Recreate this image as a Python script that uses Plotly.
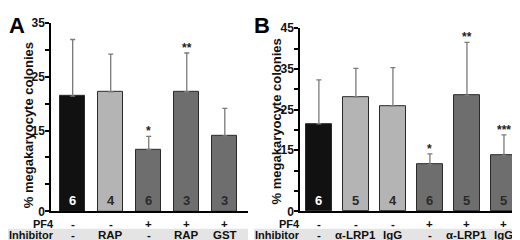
import plotly.graph_objects as go

# Panel A data
a_means = [21.4, 22.2, 11.5, 22.2, 14.0]
a_errs = [10.5, 7.0, 2.4, 7.2, 5.1]
a_n = ["6", "4", "6", "3", "3"]
a_pf4 = ["-", "-", "+", "+", "+"]
a_inh = ["-", "RAP", "-", "RAP", "GST"]
a_stars = ["", "", "*", "**", ""]
a_colors = ["#111111", "#b4b4b4", "#6e6e6e", "#6e6e6e", "#6e6e6e"]
a_ticks = [0, 5, 10, 15, 20, 25, 30, 35]
a_ticklabels = ["0", "", "", "15", "", "25", "", "35"]

# Panel B data
b_means = [21.5, 28.1, 25.9, 11.5, 28.5, 13.7]
b_errs = [10.8, 7.0, 9.4, 2.6, 13.0, 5.1]
b_n = ["6", "5", "4", "6", "5", "5"]
b_pf4 = ["-", "-", "-", "+", "+", "+"]
b_inh = ["-", "α-LRP1", "IgG", "-", "α-LRP1", "IgG"]
b_stars = ["", "", "", "*", "**", "***"]
b_colors = ["#111111", "#b4b4b4", "#b4b4b4", "#6e6e6e", "#6e6e6e", "#6e6e6e"]
b_ticks = [0, 5, 10, 15, 20, 25, 30, 35, 40, 45]
b_ticklabels = ["0", "", "", "15", "", "25", "", "35", "", "45"]

FONT = "Liberation Sans, Arial, sans-serif"
W, H = 520, 240
ROW1 = 18   # px from bottom (PF4 row centre)
ROW2 = 6.5  # px from bottom (Inhibitor row centre)

fig = go.Figure()

def add_panel(means, errs, colors, ns, pf4, inh, stars, xa, ya, width):
    xs = list(range(len(means)))
    fig.add_trace(go.Bar(
        x=xs, y=means, width=width,
        marker=dict(color=colors, line=dict(color="#2a2a2a", width=1)),
        error_y=dict(type="data", symmetric=False, array=errs,
                     arrayminus=[0] * len(errs), color="#7a7a7a",
                     thickness=1.3, width=2.5),
        xaxis=xa, yaxis=ya, showlegend=False, hoverinfo="skip"))
    xref = "x" if xa == "x" else "x2"
    yref = "y" if ya == "y" else "y2"
    for i, x in enumerate(xs):
        fig.add_annotation(x=x, y=0, xref=xref, yref=yref, text=ns[i],
                           showarrow=False, yanchor="bottom", yshift=1,
                           font=dict(family=FONT, size=13, weight="bold",
                                     color="#ffffff" if i == 0 else "#2a2a2a"))
        fig.add_annotation(x=x, y=ROW1 / H, xref=xref, yref="paper", text=pf4[i],
                           showarrow=False, yanchor="middle", borderpad=0,
                           font=dict(family=FONT, size=11.5, weight="bold", color="#111"))
        fig.add_annotation(x=x, y=ROW2 / H, xref=xref, yref="paper", text=inh[i],
                           showarrow=False, yanchor="middle", borderpad=0,
                           font=dict(family=FONT, size=11.5, weight="bold", color="#111"))
        if stars[i]:
            fig.add_annotation(x=x, y=means[i] + errs[i], xref=xref, yref=yref,
                               text=stars[i], showarrow=False, yanchor="bottom",
                               yshift=-4,
                               font=dict(family=FONT, size=12, weight="bold", color="#222"))

# gray bands for Inhibitor rows
fig.add_shape(type="rect", xref="paper", yref="paper", x0=0, x1=240 / W,
              y0=0, y1=13 / H, fillcolor="#e4e4e4", line=dict(width=0), layer="below")
fig.add_shape(type="rect", xref="paper", yref="paper", x0=246 / W, x1=1,
              y0=0, y1=13 / H, fillcolor="#e4e4e4", line=dict(width=0), layer="below")

add_panel(a_means, a_errs, a_colors, a_n, a_pf4, a_inh, a_stars, "x", "y", 0.66)
add_panel(b_means, b_errs, b_colors, b_n, b_pf4, b_inh, b_stars, "x2", "y2", 0.7)

# row labels
for xr, txt, yy in [(47, "PF4", ROW1), (47, "Inhibitor", ROW2),
                    (293, "PF4", ROW1), (293, "Inhibitor", ROW2)]:
    fig.add_annotation(x=xr / W, y=yy / H, xref="paper", yref="paper", text=txt,
                       showarrow=False, xanchor="right", yanchor="middle", borderpad=0,
                       font=dict(family=FONT, size=11, weight="bold", color="#111"))

# y titles
for xc, yc in [(20, 117), (268, 113)]:
    fig.add_annotation(x=xc / W, y=1 - yc / H, xref="paper", yref="paper",
                       text="% megakaryocyte colonies", textangle=-90, showarrow=False,
                       xanchor="center", yanchor="middle",
                       font=dict(family=FONT, size=13, weight="bold", color="#111"))

# panel letters
for xc, txt in [(0, "A"), (245, "B")]:
    fig.add_annotation(x=xc / W, y=1, xref="paper", yref="paper", text=txt,
                       showarrow=False, xanchor="left", yanchor="top", yshift=3,
                       borderpad=0,
                       font=dict(family=FONT, size=22, weight="bold", color="#000"))

axis_common = dict(showgrid=False, zeroline=False, showline=True,
                   linecolor="#000", linewidth=1.5)

fig.update_layout(
    width=W, height=H, margin=dict(l=0, r=0, t=0, b=0),
    plot_bgcolor="white", paper_bgcolor="white", bargap=0,
    xaxis=dict(domain=[43 / W, 240 / W], range=[-0.57, 4.61], showticklabels=False,
               ticks="", **axis_common),
    yaxis=dict(domain=[1 - 208.5 / H, 1 - 8.3 / H], range=[0, 35], tickvals=a_ticks,
               ticktext=a_ticklabels, ticks="outside", ticklen=4, tickwidth=1.5,
               tickcolor="#000", ticklabelstandoff=-2,
               tickfont=dict(family=FONT, size=12, weight="bold", color="#111"),
               **axis_common),
    xaxis2=dict(domain=[292 / W, 513 / W], range=[-0.51, 5.46], showticklabels=False,
                ticks="", anchor="y2", **axis_common),
    yaxis2=dict(domain=[1 - 208.5 / H, 1 - 14 / H], range=[0, 45], tickvals=b_ticks,
                ticktext=b_ticklabels, ticks="outside", ticklen=4, tickwidth=1.5,
                tickcolor="#000", anchor="x2", ticklabelstandoff=-2,
                tickfont=dict(family=FONT, size=12, weight="bold", color="#111"),
                **axis_common),
)

fig.write_html("out.html")
